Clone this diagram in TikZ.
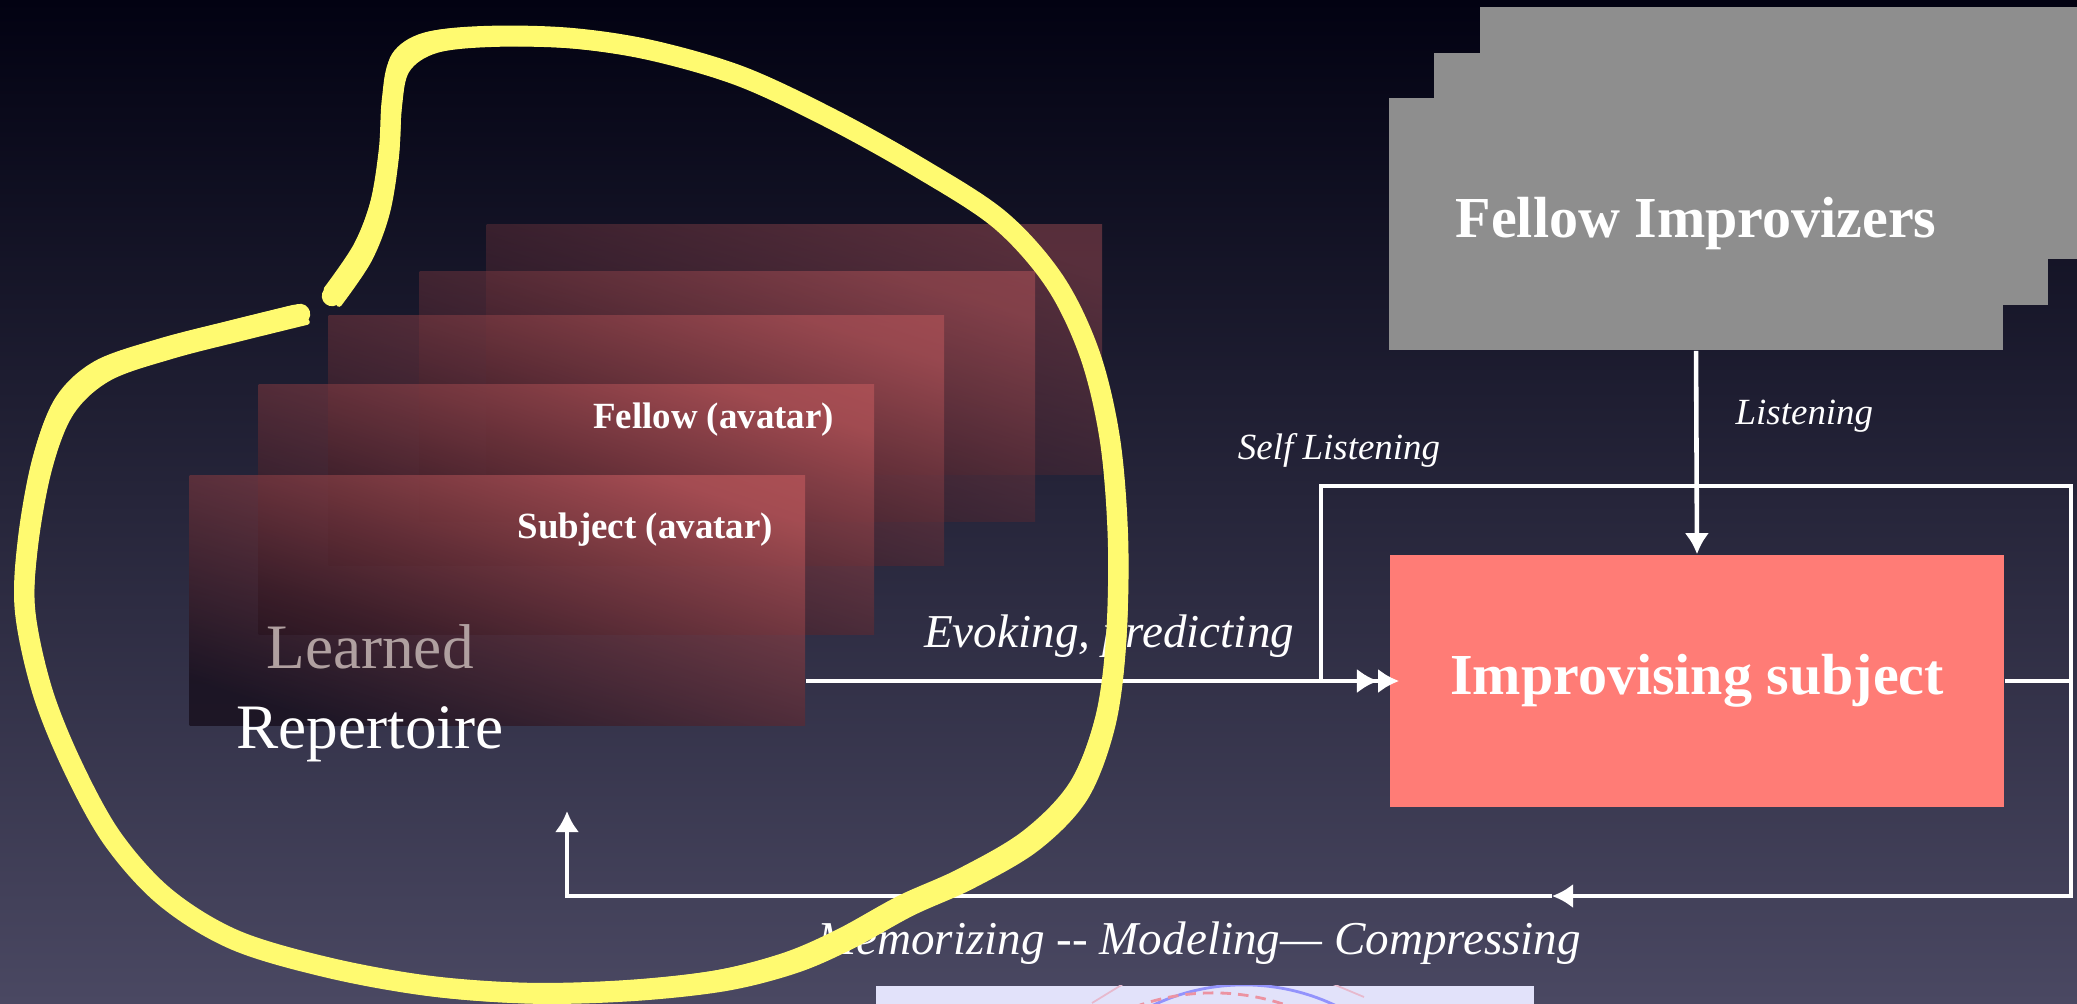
\documentclass[tikz,border=0pt]{standalone}
\usepackage{fontspec}
\setmainfont{Liberation Serif}
\usetikzlibrary{arrows.meta,positioning}
\definecolor{bgtop}{RGB}{2,2,18}
\definecolor{bgmid}{RGB}{20,20,44}
\definecolor{bgbot}{RGB}{74,72,98}
\definecolor{fellowgray}{RGB}{142,142,142}
\definecolor{salmon}{RGB}{255,124,118}
\definecolor{avtop}{RGB}{190,88,92}
\definecolor{avmid}{RGB}{80,36,48}
\definecolor{avbot}{RGB}{18,8,20}
\definecolor{learngray}{RGB}{176,160,160}
\definecolor{hiyellow}{RGB}{255,250,112}
\definecolor{figbg}{RGB}{226,226,250}
\tikzstyle{flow}=[draw=white, line width=1.3pt, >={Latex[length=6pt,width=7pt]}]
\tikzstyle{bigbox}=[minimum width=6.14cm, minimum height=2.52cm, inner sep=0pt,
                text=white, font=\fontsize{16.5}{20}\selectfont\bfseries]
\tikzstyle{avatar}=[minimum width=6.15cm, minimum height=2.5cm, inner sep=0pt,
                top color=avtop, middle color=avmid, bottom color=avbot,
                shading angle=-18, anchor=north west]
\tikzstyle{avlabel}=[text=white, font=\fontsize{10.5}{12}\selectfont\bfseries,
                anchor=east, inner sep=0pt]
\tikzstyle{evlabel}=[text=white, font=\fontsize{13.4}{16}\selectfont\itshape, inner sep=2pt]
\tikzstyle{smlabel}=[text=white, font=\fontsize{10.5}{12}\selectfont\itshape, inner sep=2pt]
\tikzstyle{brush}=[draw=hiyellow, line cap=round, line join=round]

\begin{document}
\begin{tikzpicture}[x=0.01cm, y=-0.01cm]
\clip (0,0) rectangle (2077,1003);
\shade[top color=bgtop, middle color=bgmid, bottom color=bgbot] (0,0) rectangle (2077,1003);

% repertoire and its avatars, back ones fainter
\foreach \x/\y/\op [count=\i] in {486/224/0.4, 419/271/0.47, 328/315/0.54, 258/384/0.62, 189/475/0.68}
  \node[avatar, fill opacity=\op] (av\i) at (\x,\y) {};
\node[align=center, font=\fontsize{18}{22.8}\selectfont] (rep) at (370,693)
  {\textcolor{learngray}{Learned}\\\textcolor{white}{Repertoire}};
\node[avlabel] (fellowav) at ([xshift=-0.4cm, yshift=-0.36cm]av4.north east) {Fellow (avatar)};
\node[avlabel] (subjav) at ([xshift=-0.32cm, yshift=-0.55cm]av5.north east) {Subject (avatar)};

% the other players
\fill[fellowgray] (1480,7) rectangle ++(614,252);
\fill[fellowgray] (1434,53) rectangle ++(614,252);
\node[bigbox, fill=fellowgray] (fellow) at (1696,224) {Fellow Improvizers};
\node[bigbox, fill=salmon] (improv) at (1697,681) {Improvising subject};

\coordinate (rt) at (2071,681);
\coordinate (slc) at (1321,486);
\coordinate (retarrow) at (1552,896);
\coordinate (repin) at (567,811);

\draw[flow, ->] (fellow.south) -- (improv.north)
  node[smlabel, pos=0.32, right=0.3cm] {Listening};
\draw[flow, ->>, shorten >=-0.1cm] (av5.east |- improv.west) -- (improv.west)
  node[evlabel, pos=0.52, above=4pt] {Evoking, predicting};
\draw[flow] (improv.east) -- (rt) |- (slc) -- (slc |- improv.west);
\node[smlabel] (selflbl) at (1339,450) {Self Listening};
\draw[flow, ->] (rt) |- (retarrow);
\draw[flow, ->] (retarrow) -| (repin);
\node[evlabel] (memlbl) at (1199,943) {Memorizing -{}- Modeling— Compressing};

% figure peeking in at the bottom
\node[fill=figbg, minimum width=6.58cm, minimum height=0.3cm, inner sep=0pt,
  anchor=north west] (fig) at (875,985) {};
\begin{scope}
\clip (fig.south west) rectangle (fig.north east);
\draw[blue!35!figbg, line width=0.8pt] (1244,1198) circle (2.13cm);
\draw[red!35!figbg, line width=0.8pt, densely dashed] (1213,1217) circle (2.24cm);
\draw[red!18!figbg, line width=0.5pt] (1092,1003) -- (1123,984) (1333,984) -- (1364,997);
\end{scope}

% yellow scribble round the repertoire
\foreach \dx/\dy/\w in {0/0/5.8pt, 7/-8/1.6pt, -6/7/1.3pt}
  \draw[brush, line width=\w, xshift=\dx*0.01cm, yshift=\dy*0.01cm]
    plot[smooth, tension=0.55] coordinates {(332,296) (362,252) (380,205) (389,150)
    (392,100) (400,62) (430,42) (490,36) (570,38) (650,50) (740,76) (830,118)
    (920,168) (1000,220) (1055,282) (1090,355) (1110,440) (1118,540) (1116,640)
    (1105,720) (1078,790) (1030,840) (965,878) (905,905) (845,938) (790,962)
    (720,980) (630,990) (530,993) (430,986) (330,968) (235,940) (165,897)
    (112,838) (72,765) (42,690) (25,610) (28,540) (42,462) (64,405) (102,370)
    (165,348) (235,330) (300,314)};
\end{tikzpicture}
\end{document}
